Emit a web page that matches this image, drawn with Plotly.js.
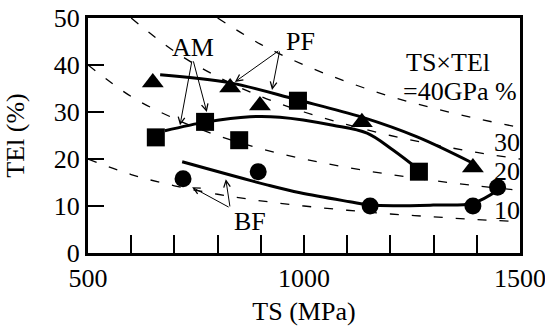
<!DOCTYPE html>
<html>
<head>
<meta charset="utf-8">
<script src="https://cdn.plot.ly/plotly-3.0.1.min.js"></script>
<style>html,body{margin:0;padding:0;background:#fff;}#chart{width:545px;height:326px;}</style>
</head>
<body>
<div id="chart"></div>
<script>
// ---- data ----
// measured points
const pfTS  = [650, 829, 898, 1134, 1391];
const pfTEl = [36.3, 35.2, 31.4, 27.8, 18.2];
const amTS  = [657, 771, 850, 986, 1266];
const amTEl = [24.6, 27.9, 24.0, 32.4, 17.3];
const bfTS  = [720, 894, 1153, 1391, 1448];
const bfTEl = [15.8, 17.3, 10.0, 10.0, 14.0];

// hand-drawn trend curves
const pfCurveTS  = [667, 829, 984, 1134, 1262, 1391];
const pfCurveTEl = [37.9, 36.2, 32.6, 28.9, 24.7, 19.1];
const amCurveTS  = [678, 775, 875, 944, 1067, 1146, 1206, 1266];
const amCurveTEl = [26.0, 27.9, 29.0, 28.9, 27.2, 25.5, 21.9, 17.7];
const bfCurveTS  = [718, 914, 991, 1106, 1153, 1299, 1391, 1449];
const bfCurveTEl = [19.4, 14.5, 12.8, 10.9, 10.2, 10.2, 10.6, 13.4];

// iso TS x TEl lines (GPa %)
const iso10TS  = [500, 600, 700, 800, 900, 1000, 1100, 1200, 1300, 1400, 1500];
const iso10TEl = [20, 16.7, 14.3, 12.5, 11.1, 10, 9.1, 8.3, 7.7, 7.1, 6.7];
const iso20TS  = [500, 600, 700, 800, 900, 1000, 1100, 1200, 1300, 1400, 1500];
const iso20TEl = [40, 33.3, 28.6, 25, 22.2, 20, 18.2, 16.7, 15.4, 14.3, 13.3];
const iso30TS  = [600, 700, 800, 900, 1000, 1100, 1200, 1300, 1400, 1500];
const iso30TEl = [50, 42.9, 37.5, 33.3, 30, 27.3, 25, 23.1, 21.4, 20];
const iso40TS  = [800, 900, 1000, 1100, 1200, 1300, 1400, 1500];
const iso40TEl = [50, 44.4, 40, 36.4, 33.3, 30.8, 28.6, 26.7];

// axis ticks
const xTickVals = [500, 600, 700, 800, 900, 1000, 1100, 1200, 1300, 1400, 1500];
const xTickText = ['500', '', '', '', '', '1000', '', '', '', '', '1500'];
const yTickVals = [0, 10, 20, 30, 40, 50];
const yTickText = ['0', '10', '20', '30', '40', '50'];

// ---- drawing ----
const FONT = 'Liberation Serif';
const TXT = {family: FONT, size: 26, color: 'black'};
const isoStyle = {color: 'black', width: 1.3, dash: '9px,13px', shape: 'spline'};
const curveStyle = {color: 'black', width: 3, shape: 'spline', smoothing: 1};

const traces = [
  {x: iso10TS, y: iso10TEl, mode: 'lines', line: isoStyle},
  {x: iso20TS, y: iso20TEl, mode: 'lines', line: isoStyle},
  {x: iso30TS, y: iso30TEl, mode: 'lines', line: isoStyle},
  {x: iso40TS, y: iso40TEl, mode: 'lines', line: isoStyle},
  {x: pfCurveTS, y: pfCurveTEl, mode: 'lines', line: curveStyle},
  {x: amCurveTS, y: amCurveTEl, mode: 'lines', line: curveStyle},
  {x: bfCurveTS, y: bfCurveTEl, mode: 'lines', line: curveStyle},
  {x: pfTS, y: pfTEl, mode: 'markers', marker: {symbol: 'triangle-up', size: 19, color: 'black'}},
  {x: amTS, y: amTEl, mode: 'markers', marker: {symbol: 'square', size: 18, color: 'black'}},
  {x: bfTS, y: bfTEl, mode: 'markers', marker: {symbol: 'circle', size: 17, color: 'black'}}
];

function arrow(tipX, tipY, tailX, tailY) {
  return {x: tipX, y: tipY, ax: tailX, ay: tailY, xref: 'x', yref: 'y', axref: 'x', ayref: 'y',
          text: '', showarrow: true, arrowhead: 5, arrowsize: 1.3, arrowwidth: 1, arrowcolor: 'black'};
}
function label(txt, x, y) {
  return {x: x, y: y, xref: 'x', yref: 'y', text: txt, showarrow: false,
          font: TXT, xanchor: 'center', yanchor: 'middle'};
}

const annotations = [
  label('AM', 743, 43.8),
  label('PF', 993, 45.1),
  label('BF', 875, 6.6),
  label('TS×TEl', 1333, 40.6),
  label('=40GPa %', 1361, 34.3),
  label('30', 1471, 23.6),
  label('20', 1471, 17.4),
  label('10', 1471, 9.1),
  arrow(713, 27.2, 741, 41.1),
  arrow(775, 30.0, 743, 41.1),
  arrow(840, 36.4, 944, 43.2),
  arrow(926, 34.7, 944, 43.2),
  arrow(741, 14.0, 829, 9.6),
  arrow(819, 15.7, 829, 9.6)
];

const layout = {
  width: 545, height: 326,
  margin: {l: 88, r: 25, t: 18, b: 73},
  showlegend: false,
  font: TXT,
  xaxis: {
    range: [500, 1500], tickmode: 'array', tickvals: xTickVals, ticktext: xTickText,
    ticks: 'inside', ticklen: 18, tickwidth: 2, tickcolor: 'black',
    showline: true, linewidth: 3, linecolor: 'black', mirror: true,
    showgrid: false, zeroline: false, ticklabeloverflow: 'allow',
    tickfont: TXT,
    title: {text: 'TS (MPa)', font: TXT}
  },
  yaxis: {
    range: [0, 50], tickmode: 'array', tickvals: yTickVals, ticktext: yTickText,
    ticks: 'inside', ticklen: 16, tickwidth: 2, tickcolor: 'black',
    showline: true, linewidth: 3, linecolor: 'black', mirror: true,
    showgrid: false, zeroline: false,
    tickfont: TXT,
    title: {text: 'TEl (%)', font: TXT}
  },
  annotations: annotations
};

Plotly.newPlot('chart', traces, layout, {displayModeBar: false});
</script>
</body>
</html>
